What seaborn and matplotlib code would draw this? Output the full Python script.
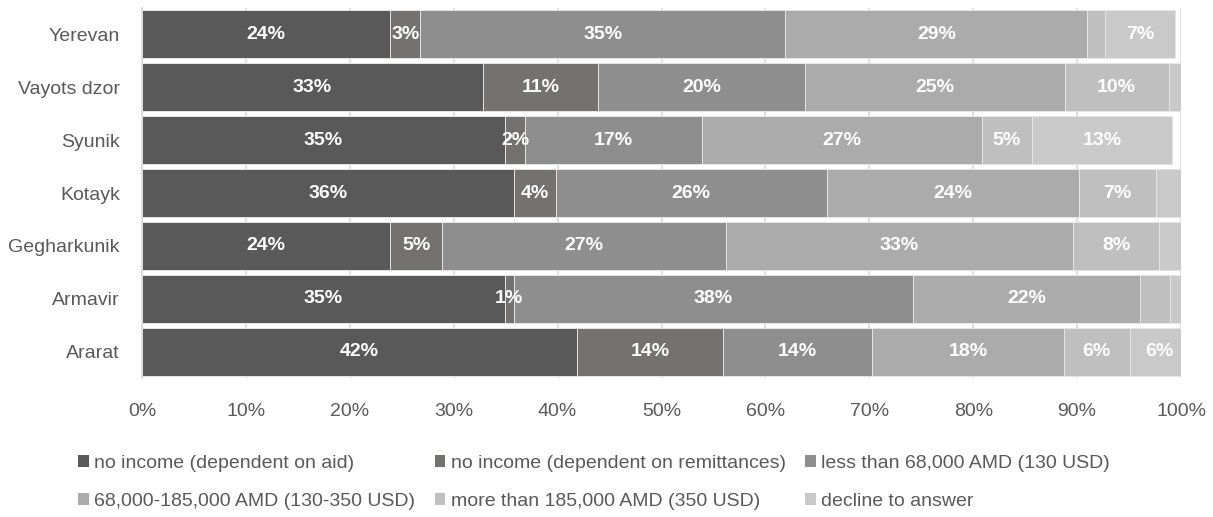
import matplotlib
matplotlib.use("Agg")
import matplotlib.pyplot as plt
from matplotlib.patches import Patch
import numpy as np
import pandas as pd
import seaborn as sns

# Monthly household income by region (share of respondents, %)
regions = ["Yerevan", "Vayots dzor", "Syunik", "Kotayk", "Gegharkunik", "Armavir", "Ararat"]
income_groups = [
    "no income (dependent on aid)",
    "no income (dependent on remittances)",
    "less than 68,000 AMD (130 USD)",
    "68,000-185,000 AMD (130-350 USD)",
    "more than 185,000 AMD (350 USD)",
    "decline to answer",
]
no_income_aid = [23.9, 32.8, 34.9, 35.8, 23.9, 34.9, 41.9]
no_income_remittances = [2.9, 11.1, 2.0, 4.0, 5.0, 0.9, 14.0]
less_than_68k = [35.1, 19.9, 17.0, 26.1, 27.3, 38.4, 14.4]
from_68k_to_185k = [29.1, 25.0, 26.9, 24.3, 33.4, 21.9, 18.4]
more_than_185k = [1.7, 10.0, 4.9, 7.4, 8.3, 2.8, 6.4]
decline_to_answer = [6.7, 1.2, 13.4, 2.4, 2.1, 1.1, 5.6]
xtick_labels = ["0%", "10%", "20%", "30%", "40%", "50%", "60%", "70%", "80%", "90%", "100%"]

series_values = [no_income_aid, no_income_remittances, less_than_68k,
                 from_68k_to_185k, more_than_185k, decline_to_answer]
colors = ["#595959", "#747171", "#8e8e8e", "#ababab", "#bfbfbf", "#c9c9c9"]
text_color = "#595959"
grid_color = "#d9d9d9"

sns.set_theme(style="white")
plt.rcParams["font.family"] = ["Liberation Sans", "DejaVu Sans"]
FS = 14

values = pd.DataFrame(np.array(series_values).T / 100.0, index=regions, columns=income_groups)
cumulative = values.cumsum(axis=1)

fig = plt.figure(figsize=(12.13, 5.17), dpi=100)
ax = fig.add_axes([142 / 1213, 1 - 378 / 517, (1181 - 142) / 1213, (378 - 8) / 517])

# Stacked bars: draw cumulative totals from the outermost layer inwards
for k in range(len(income_groups) - 1, -1, -1):
    sns.barplot(x=cumulative.iloc[:, k].values, y=regions, order=regions, orient="h",
                color=colors[k], saturation=1, width=0.91, errorbar=None,
                edgecolor="#e6e6e6", linewidth=0.7, ax=ax, zorder=2)

# Value labels centred in each segment
for i, region in enumerate(regions):
    start = 0.0
    for k, group in enumerate(income_groups):
        v = values.loc[region, group]
        if k < 4 or v >= 0.03:
            ax.text(start + v / 2, i, f"{round(v * 100)}%", ha="center", va="center",
                    color="white", fontsize=FS, fontweight="bold", zorder=5)
        start += v

ax.set_xlim(0, 1)
ax.set_ylim(len(regions) - 0.5, -0.5)
ax.set_xticks(np.linspace(0, 1, len(xtick_labels)))
ax.set_xticklabels(xtick_labels)
ax.set_xlabel("")
ax.set_ylabel("")
ax.grid(axis="x", color=grid_color, linewidth=1.2, zorder=0)
ax.set_axisbelow(True)
for side in ["top", "right", "bottom"]:
    ax.spines[side].set_visible(False)
ax.spines["left"].set_color(grid_color)
ax.spines["left"].set_linewidth(1.2)
ax.tick_params(axis="x", length=0, pad=18, labelsize=FS, labelcolor=text_color)
ax.tick_params(axis="y", length=0, pad=16, labelsize=FS, labelcolor=text_color)

handles = [Patch(facecolor=c, edgecolor="none", label=g) for c, g in zip(colors, income_groups)]
row_order = [0, 3, 1, 4, 2, 5]
fig.legend([handles[j] for j in row_order], [income_groups[j] for j in row_order],
           ncol=3, loc="upper left", bbox_to_anchor=(78 / 1213, 1 - 455 / 517),
           frameon=False, fontsize=FS, labelcolor=text_color,
           handlelength=0.55, handleheight=0.55, handletextpad=0.28,
           columnspacing=1.0, labelspacing=1.08, borderpad=0, borderaxespad=0)

fig.savefig("out.png", dpi=100)
